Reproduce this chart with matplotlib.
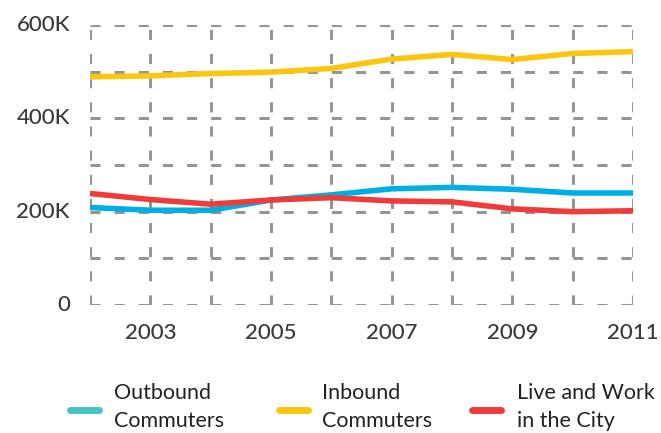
import matplotlib
matplotlib.use("Agg")
import matplotlib.pyplot as plt
from matplotlib.lines import Line2D
from matplotlib.ticker import MultipleLocator

years = [2002, 2003, 2004, 2005, 2006, 2007, 2008, 2009, 2010, 2011]
outbound = [209000, 203000, 203000, 225000, 236000, 249000, 252000, 248000, 240000, 240000]
inbound = [489000, 491000, 496000, 499000, 507000, 527000, 537000, 526000, 539000, 543000]
live_work = [239000, 226000, 216000, 225000, 230000, 223000, 221000, 206000, 200000, 202000]
series_labels = ["Outbound\nCommuters", "Inbound\nCommuters", "Live and Work\nin the City"]
line_colors = ["#00aee6", "#fcc50f", "#f03b3b"]
legend_colors = ["#47c4c2", "#fcc50f", "#f03b3b"]
x_ticks = [2003, 2005, 2007, 2009, 2011]
y_ticks = [0, 200000, 400000, 600000]

plt.rcParams['font.family'] = ['Lato', 'DejaVu Sans']
W, H = 661, 433
fig = plt.figure(figsize=(W/100, H/100), dpi=100)
ax = fig.add_axes([90/W, 1-305/H, (633-90)/W, (305-25)/H])

for s, c in zip([inbound, outbound, live_work], [line_colors[1], line_colors[0], line_colors[2]]):
    ax.plot(years, s, color=c, lw=4, solid_capstyle='butt', clip_on=False, zorder=3)

ax.set_xlim(2002, 2011)
ax.set_ylim(0, 600000)
ax.xaxis.set_major_locator(MultipleLocator(1))
ax.yaxis.set_major_locator(MultipleLocator(100000))
ax.grid(True, color="#959595", lw=2.2, ls=(0, (3.3, 4.6)))
ax.set_axisbelow(True)
for sp in ax.spines.values():
    sp.set_visible(False)
ax.tick_params(length=0, labelbottom=False, labelleft=False)

for y in y_ticks:
    ax.text(-0.037, y, "0" if y == 0 else f"{y//1000}K", transform=ax.get_yaxis_transform(),
            ha='right', va='center', fontsize=16, color="#3a3a3a", fontweight='medium')
for x in x_ticks:
    ax.text(x, -0.1, str(x), transform=ax.get_xaxis_transform(),
            ha='center', va='center', fontsize=16, color="#3a3a3a", fontweight='medium')

# legend
lx = [70, 279, 472]
tx = [114, 322, 517]
for i in range(3):
    fig.add_artist(Line2D([lx[i]/W, (lx[i]+29)/W], [1-410/H, 1-410/H], color=legend_colors[i],
                          lw=5, solid_capstyle='round', transform=fig.transFigure))
    fig.text(tx[i]/W, 1-407/H, series_labels[i], ha='left', va='center', fontsize=15.5,
             color="#222222", linespacing=1.55, fontweight='normal')

fig.savefig("out.png", dpi=100)
